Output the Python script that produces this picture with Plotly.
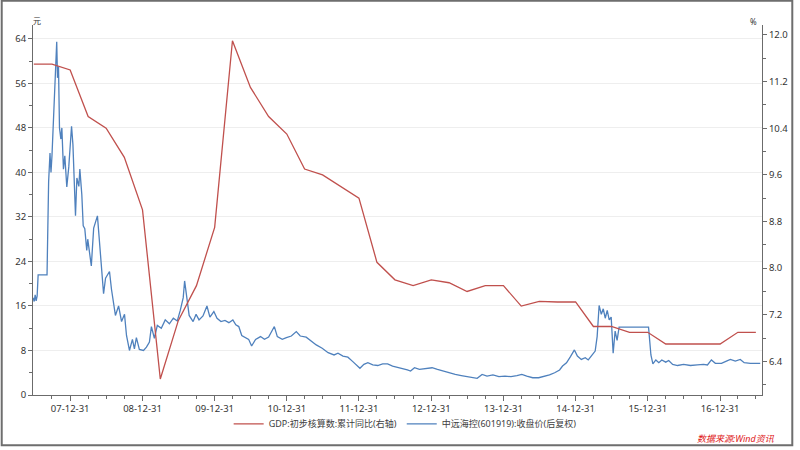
import plotly.graph_objects as go
import pandas as pd

# ---------------- data ----------------
gdp_dates = ["2007-06-30", "2007-09-30", "2007-12-31",
             "2008-03-31", "2008-06-30", "2008-09-30", "2008-12-31",
             "2009-03-31", "2009-06-30", "2009-09-30", "2009-12-31",
             "2010-03-31", "2010-06-30", "2010-09-30", "2010-12-31",
             "2011-03-31", "2011-06-30", "2011-09-30", "2011-12-31",
             "2012-03-31", "2012-06-30", "2012-09-30", "2012-12-31",
             "2013-03-31", "2013-06-30", "2013-09-30", "2013-12-31",
             "2014-03-31", "2014-06-30", "2014-09-30", "2014-12-31",
             "2015-03-31", "2015-06-30", "2015-09-30", "2015-12-31",
             "2016-03-31", "2016-06-30", "2016-09-30", "2016-12-31",
             "2017-03-31", "2017-06-30"]
gdp_values = [11.5, 11.5, 11.4,
              10.6, 10.4, 9.9, 9.0,
              6.1, 7.1, 7.7, 8.7,
              11.9, 11.1, 10.6, 10.3,
              9.7, 9.6, 9.4, 9.2,
              8.1, 7.8, 7.7, 7.8,
              7.75, 7.6, 7.7, 7.7,
              7.35, 7.43, 7.42, 7.42,
              7.0, 7.0, 6.9, 6.9,
              6.7, 6.7, 6.7, 6.7,
              6.9, 6.9]

price_dates = ["2007-06-26", "2007-07-02", "2007-07-07", "2007-07-12", "2007-07-17", "2007-07-22",
               "2007-09-05", "2007-09-13", "2007-09-20", "2007-09-25", "2007-09-30",
               "2007-10-10", "2007-10-15", "2007-10-24", "2007-10-28", "2007-11-02",
               "2007-11-07", "2007-11-14", "2007-11-19", "2007-11-27", "2007-12-04",
               "2007-12-14", "2007-12-24",
               "2008-01-07", "2008-01-14", "2008-01-27", "2008-02-03", "2008-02-13",
               "2008-02-18", "2008-02-28", "2008-03-06", "2008-03-14", "2008-03-24",
               "2008-03-29", "2008-04-16", "2008-04-28", "2008-05-17", "2008-05-23",
               "2008-06-02", "2008-06-17", "2008-06-27", "2008-07-17", "2008-07-27",
               "2008-08-04", "2008-08-16", "2008-09-01", "2008-09-16", "2008-10-01",
               "2008-10-11", "2008-10-26", "2008-11-10", "2008-11-20", "2008-11-30",
               "2008-12-15",
               "2009-01-05", "2009-01-20", "2009-02-04", "2009-02-14", "2009-03-01",
               "2009-03-16", "2009-04-05", "2009-04-25", "2009-05-16", "2009-06-05",
               "2009-06-25", "2009-07-10", "2009-07-25", "2009-08-01", "2009-08-14",
               "2009-08-24", "2009-09-13", "2009-09-28", "2009-10-13", "2009-11-02",
               "2009-11-22", "2009-12-07", "2009-12-27",
               "2010-01-12", "2010-02-01", "2010-02-21", "2010-03-13", "2010-04-02",
               "2010-04-17", "2010-05-02", "2010-05-17", "2010-06-06", "2010-06-21",
               "2010-07-06", "2010-07-26", "2010-08-20", "2010-09-09", "2010-09-30",
               "2010-10-14", "2010-10-29", "2010-11-13", "2010-12-08", "2010-12-29",
               "2011-01-23", "2011-02-17", "2011-03-09", "2011-04-08", "2011-05-03",
               "2011-05-29", "2011-06-28", "2011-07-28", "2011-08-27", "2011-09-16",
               "2011-10-11", "2011-11-05", "2011-11-30", "2011-12-20",
               "2012-01-05", "2012-01-25", "2012-02-14", "2012-03-10", "2012-04-04",
               "2012-04-29", "2012-05-24", "2012-06-18", "2012-07-13", "2012-08-07",
               "2012-09-01", "2012-09-17", "2012-10-07", "2012-11-01", "2012-12-01",
               "2013-01-04", "2013-01-31", "2013-03-02", "2013-04-01", "2013-05-01",
               "2013-06-01", "2013-07-01", "2013-07-31", "2013-08-20", "2013-09-14",
               "2013-10-09", "2013-11-08", "2013-12-08",
               "2014-01-08", "2014-02-07", "2014-03-09", "2014-04-03", "2014-04-28",
               "2014-05-28", "2014-06-27", "2014-07-27", "2014-08-21", "2014-09-16",
               "2014-10-11", "2014-10-26", "2014-11-15", "2014-12-05", "2014-12-15",
               "2014-12-25",
               "2015-01-09", "2015-01-29", "2015-02-18", "2015-03-05", "2015-03-20",
               "2015-04-09", "2015-04-19", "2015-04-29", "2015-05-10", "2015-05-20",
               "2015-05-30", "2015-06-09", "2015-06-19", "2015-06-29", "2015-07-09",
               "2015-07-19", "2015-07-29", "2015-08-08",
               "2016-01-04", "2016-01-16", "2016-01-26", "2016-02-10", "2016-02-25",
               "2016-03-11", "2016-03-31", "2016-04-15", "2016-05-05", "2016-05-30",
               "2016-06-29", "2016-08-03", "2016-09-07", "2016-10-08", "2016-10-28",
               "2016-11-17", "2016-12-07",
               "2017-01-07", "2017-02-01", "2017-02-21", "2017-03-18", "2017-04-12",
               "2017-05-02", "2017-06-02", "2017-07-22"]
price_values = [17.5, 16.8, 18.0, 16.9, 17.8, 21.6,
                21.6, 38.3, 43.5, 40.0, 43.0,
                52.0, 56.0, 63.5, 57.0, 59.0,
                48.0, 46.0, 48.0, 40.6, 43.0,
                37.4, 41.0,
                48.3, 45.0, 32.2, 39.0, 37.5,
                40.6, 36.0, 30.4, 29.9, 26.0,
                28.0, 23.2, 30.0, 32.2, 29.3,
                24.0, 18.2, 21.0, 22.2, 19.0,
                16.8, 14.3, 16.0, 13.2, 14.5,
                10.7, 8.0, 10.0, 8.3, 10.3,
                8.2,
                8.0, 8.6, 9.5, 12.3, 10.2,
                12.5, 12.0, 13.5, 12.8, 13.8,
                13.3, 15.2, 17.5, 20.5, 16.5,
                14.3, 13.2, 14.5, 13.5, 14.2,
                16.0, 14.0, 15.0,
                13.8, 13.2, 13.4, 13.0, 13.5,
                12.6, 12.3, 10.7, 10.3, 10.0,
                8.8, 10.0, 10.5, 10.0, 10.4,
                11.4, 12.3, 10.5, 10.0, 10.3,
                10.6, 11.4, 10.6, 10.4, 9.7,
                9.0, 8.4, 7.6, 7.2, 7.5,
                7.0, 6.8, 6.0, 5.4,
                4.8, 5.5, 5.8, 5.4, 5.3,
                5.6, 5.6, 5.2, 5.0, 4.8,
                4.5, 4.3, 4.9, 4.6, 4.8,
                4.9, 4.6, 4.3, 3.9, 3.7,
                3.5, 3.3, 3.2, 3.0, 3.7,
                3.4, 3.6, 3.3,
                3.4, 3.3, 3.5, 3.7, 3.4,
                3.1, 3.1, 3.3, 3.6, 4.0,
                4.5, 5.2, 5.8, 6.9, 7.5,
                8.1,
                7.0, 6.4, 6.7, 6.3, 7.0,
                7.9, 10.5, 16.1, 14.5, 15.5,
                13.8, 15.2, 13.5, 14.0, 7.5,
                11.5, 9.8, 12.2,
                12.2, 7.2, 5.6, 6.3, 5.8,
                6.3, 5.9, 6.2, 5.5, 5.3,
                5.5, 5.3, 5.4, 5.5, 5.4,
                6.3, 5.7,
                5.7, 6.1, 6.4, 6.1, 6.4,
                5.8, 5.7, 5.7]

year_ticks = ["2007-12-31", "2008-12-31", "2009-12-31", "2010-12-31", "2011-12-31",
              "2012-12-31", "2013-12-31", "2014-12-31", "2015-12-31", "2016-12-31"]
year_labels = ["07-12-31", "08-12-31", "09-12-31", "10-12-31", "11-12-31",
               "12-12-31", "13-12-31", "14-12-31", "15-12-31", "16-12-31"]

RED = "#C0504D"
BLUE = "#4F81BD"
AX = "#6b6b6b"
FONT = "Noto Sans, Noto Sans CJK SC, sans-serif"
TICKSZ = 9.5

quarter_ticks = [d.strftime("%Y-%m-%d") for d in pd.date_range("2007-09-30", "2017-06-30", freq="QE")]

fig = go.Figure()
fig.add_trace(go.Scatter(x=gdp_dates, y=gdp_values, yaxis="y2", mode="lines",
                         line=dict(color=RED, width=1.3),
                         name="GDP:初步核算数:累计同比(右轴)"))
fig.add_trace(go.Scatter(x=price_dates, y=price_values, mode="lines",
                         line=dict(color=BLUE, width=1.3),
                         name="中远海控(601919):收盘价(后复权)"))

L, R, T, B = 33, 33, 25, 53
W, H = 800, 450
pw, ph = W - L - R, H - T - B

def px(xp):
    return (xp - L) / pw

def py(yp):
    return (H - B - yp) / ph

fig.update_layout(
    width=W, height=H,
    margin=dict(l=L, r=R, t=T, b=B),
    paper_bgcolor="white", plot_bgcolor="white",
    font=dict(family=FONT, size=TICKSZ, color="#333333"),
    showlegend=True,
    legend=dict(orientation="h", x=px(230), y=py(426), xanchor="left", yanchor="middle",
                font=dict(size=9, color="#404040"), itemwidth=30,
                bgcolor="rgba(0,0,0,0)", tracegroupgap=0),
    xaxis=dict(type="date", range=["2007-06-26", "2017-07-31"],
               tickmode="array", tickvals=year_ticks, ticktext=year_labels,
               ticks="outside", ticklen=5, tickcolor=AX, tickwidth=1,
               showline=True, linecolor=AX, linewidth=1, showgrid=False, zeroline=False,
               tickfont=dict(size=TICKSZ, color="#333333"),
               minor=dict(tickmode="array", tickvals=quarter_ticks, ticks="outside",
                          ticklen=3, tickcolor=AX, showgrid=False)),
    yaxis=dict(range=[0, 66.5], tick0=0, dtick=8, ticks="outside", ticklen=4,
               tickcolor=AX, showline=True, linecolor=AX, linewidth=1,
               showgrid=True, gridcolor="#eeeeee", gridwidth=1, zeroline=False,
               tickfont=dict(size=TICKSZ, color="#333333"),
               minor=dict(dtick=4, ticks="outside", ticklen=3, tickcolor=AX, showgrid=False)),
    yaxis2=dict(range=[5.825, 12.17], tick0=6.4, dtick=0.8, tickformat=".1f",
                overlaying="y", side="right", ticks="outside", ticklen=4,
                tickcolor=AX, showline=True, linecolor=AX, linewidth=1,
                showgrid=False, zeroline=False,
                tickfont=dict(size=TICKSZ, color="#333333"),
                minor=dict(dtick=0.4, ticks="outside", ticklen=3, tickcolor=AX, showgrid=False)),
    annotations=[
        dict(text="元", x=px(31), y=py(20), xref="paper", yref="paper", showarrow=False,
             xanchor="left", yanchor="middle", font=dict(size=8, color="#333333")),
        dict(text="%", x=px(764), y=py(21), xref="paper", yref="paper", showarrow=False,
             xanchor="right", yanchor="middle", font=dict(size=8, color="#333333")),
        dict(text="<i>数据来源:Wind资讯</i>", x=px(782), y=py(441), xref="paper", yref="paper",
             showarrow=False, xanchor="right", yanchor="middle",
             font=dict(size=9, color="#e02020")),
    ],
    shapes=[dict(type="rect", xref="paper", yref="paper",
                 x0=px(1.5), x1=px(797.5), y0=py(447.5), y1=py(0.5),
                 line=dict(color="#6e6e6e", width=2), fillcolor="rgba(0,0,0,0)", layer="below")],
)

fig.write_html("out.html")
